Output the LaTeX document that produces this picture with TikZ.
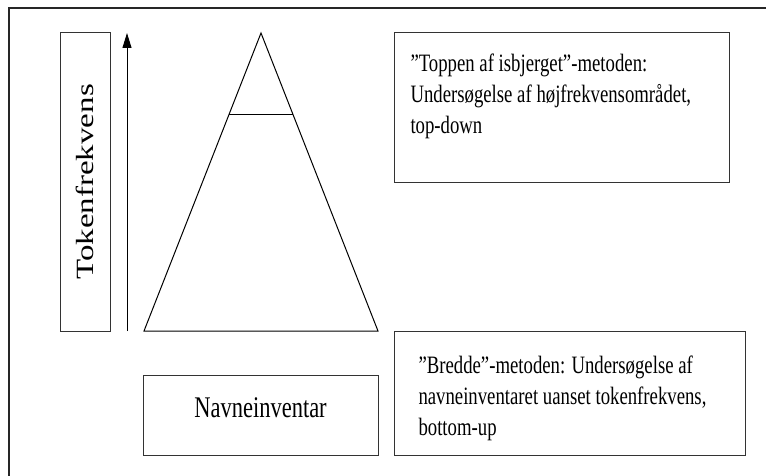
\documentclass[tikz,border=0pt]{standalone}
\usepackage{fontspec}
\setmainfont{Liberation Serif}
\usetikzlibrary{arrows.meta, calc, positioning}
\newcommand{\squeeze}[1]{\scalebox{0.75}[1]{#1}}

\begin{document}
\begin{tikzpicture}[x=1pt, y=1pt, line width=1pt,
  frame/.style={draw=black!80, line width=1pt, inner sep=0pt},
  boxtext/.style={anchor=base west, inner sep=0pt, font=\fontsize{25}{31}\selectfont}]
  \useasboundingbox (0,0) rectangle (766,475);
  % outer frame, runs off the page right and below
  \draw[black!85, line width=1.5pt] (9,-5) -- (9,467) -- (772,467);

  % frequency axis
  \node[frame, minimum width=50pt, minimum height=298pt] (axisbox) at (85,293) {};
  \node[inner sep=0pt, font=\fontsize{33}{40}\selectfont] (axislabel) at (axisbox.center) {\squeeze{\rotatebox{90}{Tokenfrekvens}}};
  \coordinate (arrowbot) at (127,144);
  \coordinate (arrowtop) at (127,442);
  \draw[-{Triangle[length=15pt, width=9pt]}] (arrowbot) -- (arrowtop);

  % iceberg
  \coordinate (peak) at (261,442);
  \coordinate (baseleft) at (144,144);
  \coordinate (baseright) at (378,144);
  \draw (baseleft) -- (peak) -- (baseright) -- cycle;
  \draw ($(baseleft)!0.725!(peak)$) -- ($(baseright)!0.725!(peak)$);

  \node[frame, minimum width=235pt, minimum height=80pt] (inventory) at (260.5,60) {};
  \node[font=\fontsize{30}{36}\selectfont, yshift=7pt] (invlabel) at (inventory.center) {\squeeze{Navneinventar}};

  % methods
  \node[frame, minimum width=335pt, minimum height=149pt] (topmethod) at (561.5,367.5) {};
  \node[boxtext] (toptext) at (410,403) {\squeeze{\begin{tabular}[t]{@{}l@{}}”Toppen af isbjerget”-metoden:\\Undersøgelse af højfrekvensområdet,\\top-down\end{tabular}}};

  \node[frame, minimum width=351pt, minimum height=124pt] (bottommethod) at (569.5,82) {};
  \node[boxtext] (bottomtext) at (418,102) {\squeeze{\begin{tabular}[t]{@{}l@{}}”Bredde”-metoden: Undersøgelse af\\navneinventaret uanset tokenfrekvens,\\bottom-up\end{tabular}}};
\end{tikzpicture}
\end{document}
